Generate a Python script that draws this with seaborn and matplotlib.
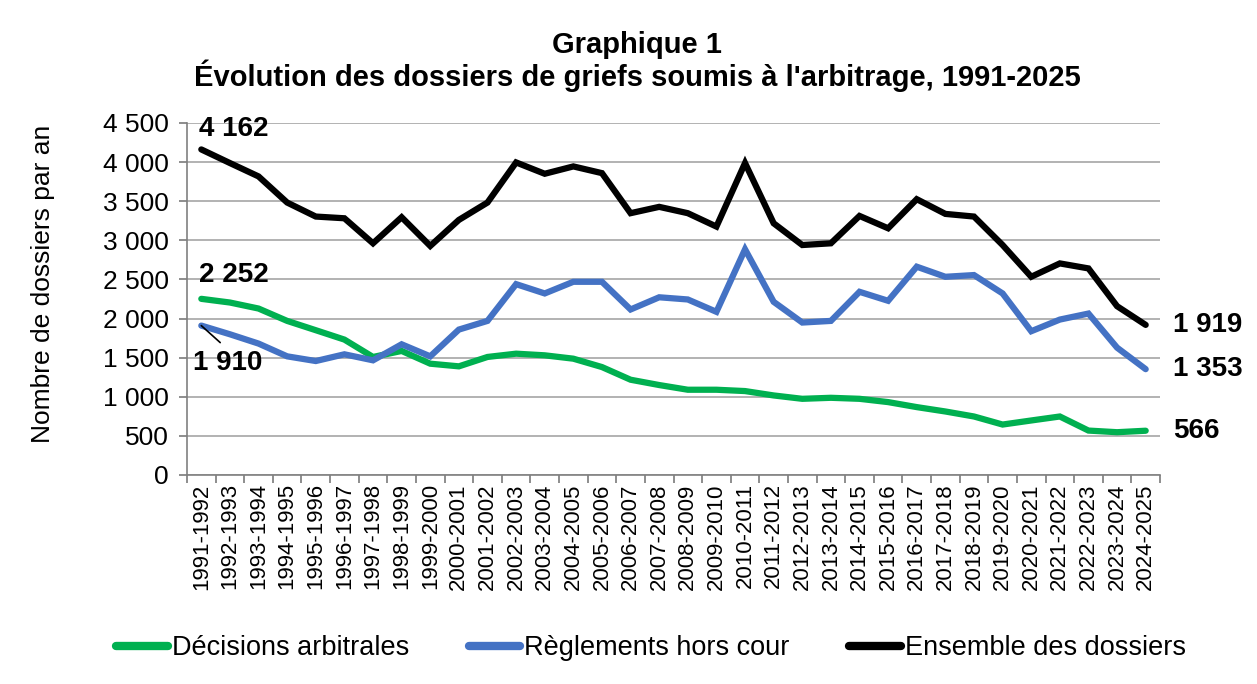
import matplotlib
matplotlib.use("Agg")
import matplotlib.pyplot as plt
import numpy as np
import pandas as pd
import seaborn as sns
from matplotlib.ticker import FuncFormatter, FixedLocator

periodes = ["1991-1992", "1992-1993", "1993-1994", "1994-1995", "1995-1996", "1996-1997",
            "1997-1998", "1998-1999", "1999-2000", "2000-2001", "2001-2002", "2002-2003",
            "2003-2004", "2004-2005", "2005-2006", "2006-2007", "2007-2008", "2008-2009",
            "2009-2010", "2010-2011", "2011-2012", "2012-2013", "2013-2014", "2014-2015",
            "2015-2016", "2016-2017", "2017-2018", "2018-2019", "2019-2020", "2020-2021",
            "2021-2022", "2022-2023", "2023-2024", "2024-2025"]

decisions = [2252, 2205, 2128, 1970, 1851, 1731, 1509, 1586, 1423, 1389, 1509, 1551,
             1530, 1487, 1380, 1218, 1150, 1090, 1090, 1073, 1017, 974, 987, 974,
             932, 868, 812, 748, 645, 697, 748, 568, 547, 566]

reglements = [1910, 1799, 1680, 1517, 1457, 1543, 1466, 1671, 1517, 1859, 1970, 2440,
              2321, 2470, 2470, 2116, 2272, 2244, 2086, 2885, 2214, 1949, 1970, 2342,
              2227, 2663, 2534, 2556, 2321, 1838, 1987, 2064, 1628, 1353]

ensemble = [4162, 3988, 3817, 3483, 3304, 3282, 2962, 3295, 2928, 3261, 3483, 3996,
            3851, 3945, 3859, 3347, 3428, 3347, 3176, 3988, 3218, 2940, 2962, 3312,
            3154, 3526, 3338, 3304, 2940, 2534, 2705, 2641, 2158, 1919]

series_noms = ["Décisions arbitrales", "Règlements hors cour", "Ensemble des dossiers"]
couleurs = ["#00B050", "#4472C4", "#000000"]

sns.set_theme(style="white")
plt.rcParams["font.family"] = ["Liberation Sans", "DejaVu Sans"]
for k in ["text.color", "axes.labelcolor", "xtick.labelcolor", "ytick.labelcolor"]:
    plt.rcParams[k] = "black"

idx = np.arange(len(periodes))
df = pd.concat([
    pd.DataFrame({"idx": idx, "valeur": vals, "serie": nom})
    for nom, vals in zip(series_noms, [decisions, reglements, ensemble])
], ignore_index=True)

fig = plt.figure(figsize=(12.57, 6.84), dpi=100)
ax = fig.add_axes([187 / 1257, 1 - 475 / 684, (1160 - 187) / 1257, (475 - 123) / 684])

sns.lineplot(data=df, x="idx", y="valeur", hue="serie", hue_order=series_noms,
             palette=dict(zip(series_noms, couleurs)), linewidth=4.5, ax=ax,
             solid_capstyle="round", solid_joinstyle="miter", sort=False)

ax.set_xlim(-0.5, len(periodes) - 0.5)
ax.set_ylim(0, 4500)
ax.set_yticks(np.arange(0, 4501, 500))
ax.yaxis.set_major_formatter(FuncFormatter(lambda v, p: f"{int(v):,}".replace(",", " ")))
ax.tick_params(axis="y", labelsize=19, length=6, color="#808080", direction="out",
               left=True, pad=7, labelcolor="black")

ax.xaxis.set_major_locator(FixedLocator(np.arange(-0.5, len(periodes), 1.0)))
ax.xaxis.set_minor_locator(FixedLocator(idx))
ax.set_xticklabels([], minor=False)
ax.set_xticklabels(periodes, minor=True, rotation=90)
ax.tick_params(axis="x", which="major", length=6, color="#808080", direction="out", bottom=True)
ax.tick_params(axis="x", which="minor", length=0, labelsize=16, pad=6, labelcolor="black")

ax.grid(axis="y", color="#A6A6A6", linewidth=1.2)
ax.grid(axis="x", visible=False)
for s in ["top", "right"]:
    ax.spines[s].set_visible(False)
for s in ["left", "bottom"]:
    ax.spines[s].set_color("#808080")
    ax.spines[s].set_linewidth(1.2)
ax.set_xlabel("")
ax.set_ylabel("")

fig.text(43 / 1257, 1 - 284 / 684, "Nombre de dossiers par an", rotation=90,
         ha="center", va="center", fontsize=19, color="black")
fig.text(637 / 1257, 1 - 45 / 684, "Graphique 1", ha="center", va="center",
         fontsize=21, fontweight="bold", color="black")
fig.text(637 / 1257, 1 - 76 / 684,
         "Évolution des dossiers de griefs soumis à l'arbitrage, 1991-2025",
         ha="center", va="center", fontsize=21, fontweight="bold", color="black")

lab = dict(fontsize=20, fontweight="bold", color="black")
ax.annotate(f"{ensemble[0]:,}".replace(",", " "), (idx[0], ensemble[0]),
            xytext=(-2, 20), textcoords="offset pixels", ha="left", va="center", **lab)
ax.annotate(f"{decisions[0]:,}".replace(",", " "), (idx[0], decisions[0]),
            xytext=(-2, 24), textcoords="offset pixels", ha="left", va="center", **lab)
ax.annotate(f"{reglements[0]:,}".replace(",", " "), (idx[0], reglements[0]),
            xytext=(-8, -37), textcoords="offset pixels", ha="left", va="center",
            arrowprops=dict(arrowstyle="-", color="black", lw=1.2, relpos=(0.5, 1.0),
                            shrinkA=4, shrinkB=0), **lab)
for vals in [ensemble, reglements, decisions]:
    ax.annotate(f"{vals[-1]:,}".replace(",", " "), (idx[-1], vals[-1]),
                xytext=(27, 0), textcoords="offset pixels", ha="left", va="center",
                annotation_clip=False, **lab)

handles, labels = ax.get_legend_handles_labels()
for h in handles:
    h.set_linewidth(6)
ax.legend_.remove()
leg = fig.legend(handles, labels, loc="center", bbox_to_anchor=(651 / 1257, 1 - 648 / 684),
                 ncol=3, frameon=False, fontsize=19.5, handlelength=1.9, handletextpad=0.15,
                 columnspacing=2.2)
for t in leg.get_texts():
    t.set_color("black")

fig.savefig("out.png", dpi=100)
